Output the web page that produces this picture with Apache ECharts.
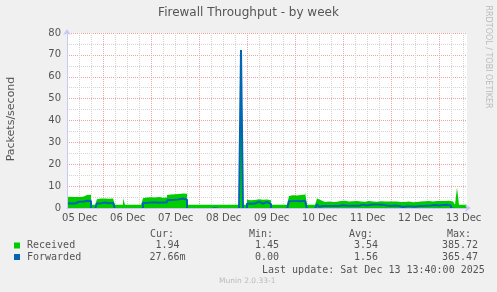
<!DOCTYPE html>
<html><head><meta charset="utf-8">
<script src="https://cdn.jsdelivr.net/npm/echarts@6/dist/echarts.min.js"></script>
<style>html,body{margin:0;padding:0;background:#f0f0f0}#c{width:497px;height:292px}</style>
</head><body><div id="c"></div><script>
// ---- data (hourly samples, starting at 05 Dec 2025 05:40, ending 13 Dec 13:40) ----
const startUTC = Date.UTC(2025, 11, 5, 5, 40);
const stepHours = 1;
const tickLabels = ['05 Dec','06 Dec','07 Dec','08 Dec','09 Dec','10 Dec','11 Dec','12 Dec','13 Dec'];
const tickDays = [5,6,7,8,9,10,11,12,13];
const yTicks = [0,10,20,30,40,50,60,70,80];

const received = [
  5.0,5.0,5.1,4.9,5.0,5.1,5.0,5.2,5.1,5.3,6.0,6.2,6.1,
  1.5,1.5,1.5,
  4.0,4.3,4.2,4.4,4.3,4.2,4.5,4.3,4.1,
  1.5,1.5,1.5,1.5,4.5,1.5,1.5,1.5,1.5,1.5,1.5,1.5,1.5,1.5,
  4.5,4.8,4.7,4.9,4.6,4.8,4.7,5.0,4.8,4.7,4.9,4.8,
  6.0,6.2,6.1,6.3,6.2,6.4,6.3,6.6,7.0,6.5,
  1.5,1.5,1.5,1.5,1.5,1.5,1.5,1.5,1.5,1.5,1.5,1.5,1.5,1.5,1.5,1.5,1.5,1.5,1.5,1.5,1.5,1.5,1.5,1.5,1.5,1.5,1.5,
  74.5,
  1.5,1.5,
  3.8,3.6,3.9,3.7,3.8,4.0,3.6,3.8,3.7,3.9,3.6,3.5,
  1.5,1.5,1.5,1.5,1.5,1.5,1.5,1.5,1.5,
  5.5,5.8,5.9,5.7,5.8,6.0,5.9,6.2,7.3,
  1.5,1.5,1.5,1.5,1.5,
  4.3,3.5,
  3.0,2.8,2.9,3.0,2.9,2.8,3.0,2.9,3.1,
  3.2,3.4,3.3,3.1,3.0,3.2,3.1,3.0,3.2,3.1,
  3.0,3.1,2.9,3.0,3.2,3.1,3.0,3.1,2.9,3.0,
  3.1,3.2,3.0,3.1,3.0,2.9,3.0,3.1,3.0,2.9,
  2.7,2.6,2.8,2.9,3.0,2.8,2.6,2.8,2.7,2.9,
  3.0,2.9,3.1,3.0,3.2,3.1,3.0,3.3,3.2,3.1,
  3.2,3.3,3.2,3.4,3.3,3.2,3.0,3.1,
  1.5,9.4,1.5,1.5,1.5,1.5
];
const forwarded = [
  2.5,2.5,2.6,2.5,2.5,3.2,3.3,3.2,3.3,3.4,3.8,4.0,3.7,
  0,0,0,
  2.5,2.6,2.5,3.0,2.7,2.6,2.5,2.8,2.5,
  0,0,0,0,0,0,0,0,0,0,0,0,0,0,
  2.8,2.8,2.9,3.0,2.9,3.1,3.0,2.9,3.0,3.0,3.1,3.0,
  4.0,4.1,4.0,4.2,4.3,4.4,4.6,4.8,5.0,4.2,
  0,0,0,0,0,0,0,0,0,0,0,0,0,0.4,0,0,0,0,0,0,0,0,0,0,0,0,0,
  72.7,
  0,0,
  2.5,2.4,2.6,2.5,2.6,3.4,2.5,2.4,2.6,3.3,2.5,2.2,
  0,0,0,0,0,0,0,0,0,
  3.5,3.6,3.5,3.7,3.6,3.5,3.6,3.8,3.6,
  0,0,0,0,0,
  2.2,1.0,
  1.4,1.3,1.4,1.5,1.4,1.3,1.4,1.5,1.4,
  1.6,1.7,1.6,1.5,1.4,1.5,1.6,1.5,1.4,1.5,
  1.8,2.0,1.9,1.6,1.5,1.9,2.0,2.1,1.9,2.0,
  1.9,2.0,1.8,1.6,1.5,1.4,1.5,1.6,1.5,1.4,
  1.0,0.9,1.2,1.3,1.4,1.2,0.8,1.0,1.2,1.4,
  1.5,1.4,1.6,1.5,1.7,1.6,1.5,1.8,1.7,1.6,
  1.7,1.8,1.7,1.9,1.8,1.6,0.3,0,
  0,0,0,0,0,0
];
const seriesNames = ['Received','Forwarded'];
const seriesColors = ['#00cc00','#0066b3'];
const curValues = [' 1.94', '27.66m'];
const minValues = [' 1.45', ' 0.00'];
const avgValues = [' 3.54', ' 1.56'];
const maxValues = ['385.72', '365.47'];
const lastUpdate = 'Last update: Sat Dec 13 13:40:00 2025';

// ---- derived ----
const H = 3600000;
const spanHours = (received.length - 1) * stepHours;
const toPts = arr => arr.map((v, i) => [i * stepHours, v]);
const noonHours = tickDays.map(d => (Date.UTC(2025, 11, d, 12, 0) - startUTC) / H);
const majorLines = [], minorLines = [];
for (let t = Date.UTC(2025, 11, 5, 6, 0); t <= startUTC + spanHours * H; t += 6 * H) {
  const h = (t - startUTC) / H;
  if (new Date(t).getUTCHours() === 0) majorLines.push(h); else minorLines.push(h);
}
const gridRed = '#f2a0a0', gridGrey = '#d4d4d4', axisCol = '#c8c8f4', txt = '#555';
const mono = '10px "DejaVu Sans Mono"';
const plotH = 175, yMin = yTicks[0], yMax = yTicks[yTicks.length-1];
const pxUnit = yMax / plotH; // one pixel in data units (rrdtool draws the line one row lower, zero line hidden under the axis)
const arrowLine = {show:true, lineStyle:{color:axisCol, width:1}, symbol:['none','arrow'], symbolSize:[6,6], symbolOffset:[0,4]};

const graphic = [
  {type:'text', x: 488, y: 57, rotation: -Math.PI/2, silent:true,
   style:{text:'RRDTOOL / TOBI OETIKER', x:0, y:0, fill:'#bbbbbb', font:'8px "DejaVu Sans"', textAlign:'center', textVerticalAlign:'middle'}},
  {type:'text', x: 11, y: 119, rotation: Math.PI/2, silent:true,
   style:{text:'Packets/second', x:0, y:0, fill:txt, font:'11px "DejaVu Sans"', textAlign:'center', textVerticalAlign:'middle'}},
  {type:'text', style:{text:'Cur:', x:150, y:234, fill:txt, font:mono, textVerticalAlign:'middle'}},
  {type:'text', style:{text:'Min:', x:249, y:234, fill:txt, font:mono, textVerticalAlign:'middle'}},
  {type:'text', style:{text:'Avg:', x:349, y:234, fill:txt, font:mono, textVerticalAlign:'middle'}},
  {type:'text', style:{text:'Max:', x:447, y:234, fill:txt, font:mono, textVerticalAlign:'middle'}},
  {type:'text', style:{text:lastUpdate, x:262, y:270, fill:txt, font:mono, textVerticalAlign:'middle'}},
  {type:'text', style:{text:'Munin 2.0.33-1', x:219, y:281, fill:'#bbbbbb', font:'7.5px "DejaVu Sans"', textVerticalAlign:'middle'}}
];
const rowY = [245.5, 257];
seriesNames.forEach((n, i) => {
  graphic.push({type:'rect', shape:{x:14, y:rowY[i]-3, width:6, height:6}, style:{fill:seriesColors[i]}});
  graphic.push({type:'text', style:{text:n, x:27, y:rowY[i], fill:txt, font:mono, textVerticalAlign:'middle'}});
  graphic.push({type:'text', style:{text:curValues[i], x:149.5, y:rowY[i], fill:txt, font:mono, textVerticalAlign:'middle'}});
  graphic.push({type:'text', style:{text:minValues[i], x:249, y:rowY[i], fill:txt, font:mono, textVerticalAlign:'middle'}});
  graphic.push({type:'text', style:{text:avgValues[i], x:348, y:rowY[i], fill:txt, font:mono, textVerticalAlign:'middle'}});
  graphic.push({type:'text', style:{text:maxValues[i], x:442, y:rowY[i], fill:txt, font:mono, textVerticalAlign:'middle'}});
});

const chart = echarts.init(document.getElementById('c'), null, {renderer:'canvas'});
chart.setOption({
  backgroundColor: '#f0f0f0',
  animation: false,
  title: {text:'Firewall Throughput - by week', left:'center', top:7, padding:0,
    textStyle:{fontSize:12, fontWeight:'normal', fontFamily:'DejaVu Sans', color:txt}},
  grid: {left:67, top:33, width:400, height:plotH, show:true, backgroundColor:'#ffffff', borderWidth:0, containLabel:false},
  xAxis: {type:'value', min:0, max:spanHours, z:3,
    axisLine: arrowLine,
    axisTick:{show:false}, splitLine:{show:false},
    axisLabel:{customValues:noonHours, color:txt, fontSize:10, fontFamily:'DejaVu Sans', margin:5,
      formatter: v => { const i = noonHours.findIndex(h => Math.abs(h - v) < 0.01); return i >= 0 ? tickLabels[i] : ''; }}
  },
  yAxis: [
    {type:'value', min:yMin, max:yMax, interval:10,
     axisLine:{show:false}, axisTick:{show:false},
     axisLabel:{color:txt, fontSize:10, fontFamily:'DejaVu Sans', margin:6},
     splitLine:{show:true, lineStyle:{color:gridRed, type:[1,1], width:1}},
     minorTick:{show:false, splitNumber:2},
     minorSplitLine:{show:true, lineStyle:{color:gridGrey, type:[1,1], width:1}}},
    {type:'value', show:false, min:yMin + pxUnit, max:yMax + pxUnit, splitLine:{show:false}},
    {type:'value', min:yMin, max:yMax, position:'left', offset:0, z:3,
     axisLine: arrowLine, axisTick:{show:false}, axisLabel:{show:false}, splitLine:{show:false}}
  ],
  series: [
    {type:'line', name:'grid', data:[], silent:true, z:1,
     markLine:{silent:true, symbol:'none', z:1, animation:false, label:{show:false},
       data: minorLines.map(h => ({xAxis:h, lineStyle:{color:gridGrey, type:[1,1], width:1}}))
         .concat(majorLines.map(h => ({xAxis:h, lineStyle:{color:gridRed, type:[1,1], width:1}})))}},
    {type:'line', name:seriesNames[0], data:toPts(received), step:'start', showSymbol:false, z:2,
     lineStyle:{width:0}, areaStyle:{color:seriesColors[0], opacity:1}, itemStyle:{color:seriesColors[0]}},
    {type:'line', name:seriesNames[1], yAxisIndex:1, data:toPts(forwarded), step:'start', showSymbol:false, z:2,
     lineStyle:{width:2, color:seriesColors[1]}, itemStyle:{color:seriesColors[1]}}
  ],
  graphic: graphic
});
</script></body></html>
